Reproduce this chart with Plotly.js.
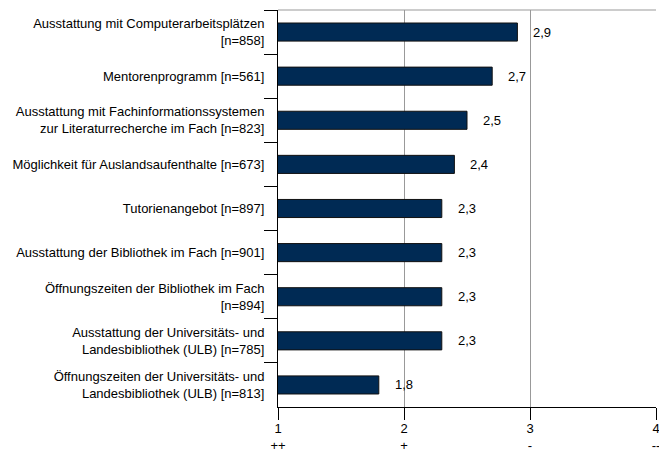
<!DOCTYPE html>
<html>
<head>
<meta charset="utf-8">
<script src="https://cdn.plot.ly/plotly-3.0.1.min.js"></script>
<style>html,body{margin:0;padding:0;background:#fff;}#chart{width:659px;height:453px;}</style>
</head>
<body>
<div id="chart"></div>
<script>
const categories = [
  "Ausstattung mit Computerarbeitsplätzen<br>[n=858]",
  "Mentorenprogramm [n=561]",
  "Ausstattung mit Fachinformationssystemen<br>zur Literaturrecherche im Fach [n=823]",
  "Möglichkeit für Auslandsaufenthalte [n=673]",
  "Tutorienangebot [n=897]",
  "Ausstattung der Bibliothek im Fach [n=901]",
  "Öffnungszeiten der Bibliothek im Fach<br>[n=894]",
  "Ausstattung der Universitäts- und<br>Landesbibliothek (ULB) [n=785]",
  "Öffnungszeiten der Universitäts- und<br>Landesbibliothek (ULB) [n=813]"
];
const values = [2.9, 2.7, 2.5, 2.4, 2.3, 2.3, 2.3, 2.3, 1.8];
const tickVals = [1, 2, 3, 4];
const tickLabels = ["1<br>++", "2<br>+", "3<br>-", "4<br>--"];

const font = {family: "Liberation Sans, Arial, sans-serif", size: 13, color: "#000"};

const trace = {
  type: "bar",
  orientation: "h",
  x: values,
  y: categories,
  width: 0.41,
  marker: {color: "#002a54", line: {color: "#111", width: 1}},
  hoverinfo: "skip"
};

const annotations = values.map((v, i) => ({
  x: v, y: categories[i], xref: "x", yref: "y",
  text: v.toFixed(1).replace(".", ","),
  showarrow: false, xanchor: "left", xshift: 14,
  font: font
}));

const layout = {
  width: 659, height: 453,
  margin: {l: 278, r: 3, t: 10, b: 46},
  paper_bgcolor: "#fff", plot_bgcolor: "#fff",
  font: font,
  showlegend: false,
  xaxis: {
    range: [1, 4],
    tickvals: tickVals, ticktext: tickLabels,
    ticks: "outside", ticklen: 12, tickcolor: "#000", tickwidth: 1,
    showline: true, linecolor: "#000", linewidth: 1,
    showgrid: true, gridcolor: "#999", gridwidth: 1,
    zeroline: false, fixedrange: true,
    ticklabeloverflow: "allow",
    ticklabelstandoff: -3,
    tickfont: font
  },
  yaxis: {
    type: "category",
    categoryorder: "array", categoryarray: categories.slice(),
    autorange: "reversed",
    ticks: "outside", tickson: "boundaries", ticklen: 13, tickcolor: "#000",
    showline: true, linecolor: "#000", linewidth: 1,
    showgrid: false, zeroline: false, fixedrange: true,
    ticklabelstandoff: 10,
    tickfont: font
  },
  shapes: [{
    type: "line", xref: "paper", yref: "paper",
    x0: 0, x1: 1, y0: 1, y1: 1,
    line: {color: "#999", width: 1}
  }],
  annotations: annotations
};

Plotly.newPlot("chart", [trace], layout, {displayModeBar: false, staticPlot: true});
</script>
</body>
</html>
